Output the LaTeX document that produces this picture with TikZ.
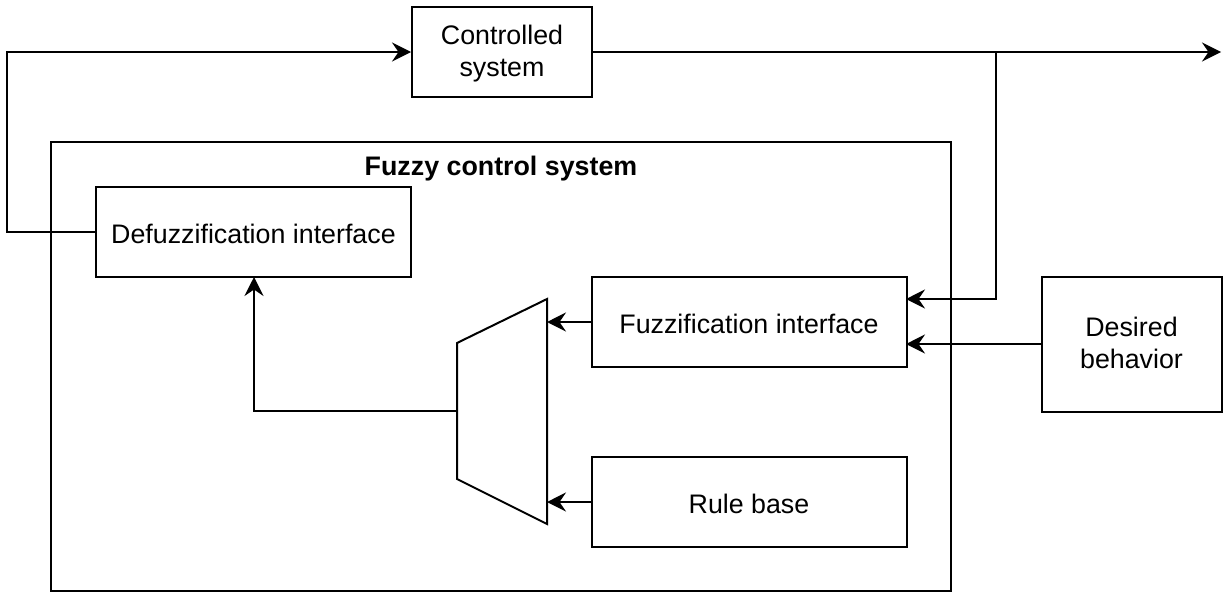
\documentclass[tikz,border=0pt]{standalone}
\usepackage{fontspec}
\setmainfont{Liberation Sans}
\usetikzlibrary{arrows.meta}
% one-line text: baseline 11.3pt below the node centre
\newcommand{\onetext}[1]{\raisebox{-11.3pt}[0pt][0pt]{#1}}
% two-line text: first baseline 7pt above the node centre
\newcommand{\twotext}[1]{\raisebox{7.2pt}[0pt][0pt]{\begin{tabular}[t]{@{}c@{}}#1\end{tabular}}}
\begin{document}
\begin{tikzpicture}[x=1pt,y=-1pt,
  every node/.style={font=\fontsize{26.8}{31.6}\selectfont},
  box/.style={draw=black, line width=2pt, fill=white, inner sep=0pt},
  conn/.style={draw=black, line width=2pt},
  arr/.style={conn, -{Stealth[length=19pt,width=19pt,inset=6.5pt]}}]
\useasboundingbox (0,0) rectangle (1228,597);
% outer container
\node[box, minimum width=900pt, minimum height=449pt] (fcs) at (501,366.5) {};
\node[inner sep=0pt, anchor=base, font=\fontsize{26.8}{32}\selectfont\bfseries] (title) at (501,175.7) {Fuzzy control system};
% blocks
\node[box, minimum width=180pt, minimum height=90pt] (cs) at (502,52) {\twotext{Controlled\\system}};
\node[box, minimum width=315pt, minimum height=90pt] (defuzz) at (253.5,232) {\onetext{Defuzzification interface}};
\node[box, minimum width=315pt, minimum height=90pt] (fuzz) at (749,322) {\onetext{Fuzzification interface}};
\node[box, minimum width=315pt, minimum height=90pt] (rule) at (749,502) {\onetext{Rule base}};
\node[box, minimum width=180pt, minimum height=135pt] (des) at (1131.5,344) {\twotext{Desired\\behavior}};
% multiplexer trapezoid
\draw[conn, line join=miter] (457,343) -- (547,299) -- (547,524) -- (457,479) -- cycle;
\coordinate (muxin1) at (547,322);
\coordinate (muxin2) at (547,502);
\coordinate (muxout) at (457,411);
% helper coordinates
\coordinate (leftturn) at (7,232);
\coordinate (lefttop) at (7,52);
\coordinate (split) at (996,52);
\coordinate (splitdown) at (996,299);
\coordinate (fuzzin1) at (906,299);
\coordinate (fuzzin2) at (906,344);
\coordinate (outend) at (1221,52);
\coordinate (defbot) at (254,277);
\coordinate (muxturn) at (254,411);
% connectors
\draw[arr] (defuzz.west) -- (leftturn) -- (lefttop) -- (cs.west);
\draw[arr] (cs.east) -- (outend);
\draw[arr] (split) -- (splitdown) -- (fuzzin1);
\draw[arr] (des.west |- fuzzin2) -- (fuzzin2);
\draw[arr] (fuzz.west) -- (muxin1);
\draw[arr] (rule.west) -- (muxin2);
\draw[arr] (muxout) -- (muxturn) -- (defbot);
\end{tikzpicture}
\end{document}
